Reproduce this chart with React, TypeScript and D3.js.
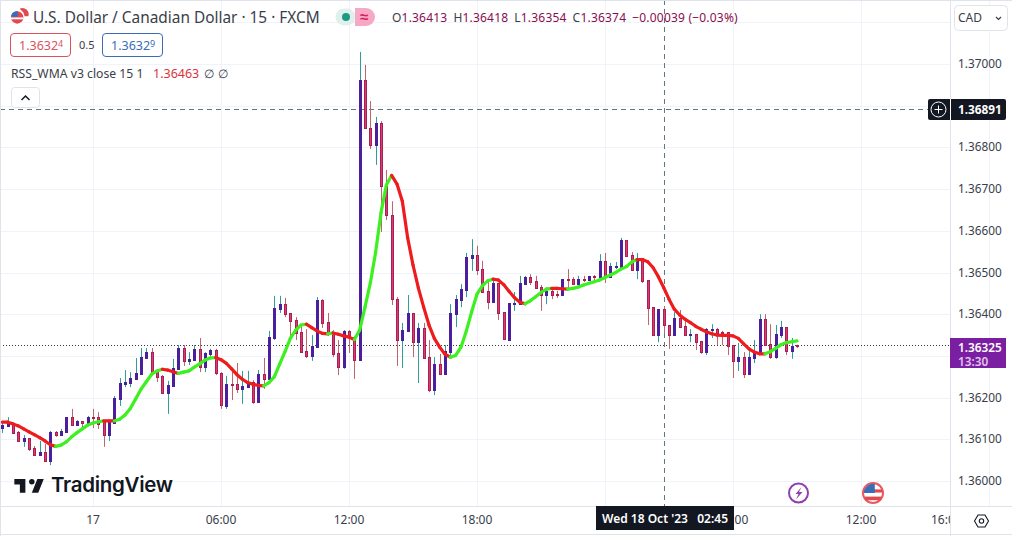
import * as d3 from 'd3'

// prices are stored as points of the 5th decimal above 1.36000
const base = 1.36
const firstBar = -17 // bar index relative to 17 Oct 00:00

const opens = [127,132,137,118,96,103,79,62,70,48,118,110,118,153,134,144,139,153,153,141,110,139,197,233,235,245,257,295,309,264,252,211,228,269,319,288,290,317,273,305,314,259,180,233,233,221,225,237,189,257,245,343,412,424,403,386,357,312,300,321,434,381,357,307,273,360,345,290,962,846,806,858,707,638,436,338,360,403,333,367,297,218,281,257,309,400,434,458,535,542,508,456,429,475,405,338,424,424,472,489,480,465,446,456,448,446,484,484,472,484,482,492,489,528,489,513,513,578,542,506,535,482,417,350,413,374,350,391,372,350,353,336,309,362,364,357,357,326,288,297,257,295,305,388,329,297,350,369,312,327]
const closes = [134,139,115,96,103,77,62,70,48,118,110,120,153,134,144,139,153,151,137,110,141,199,235,237,247,259,297,309,261,249,211,230,271,319,288,293,317,273,307,314,259,182,233,230,221,228,237,189,257,245,345,415,424,400,384,355,309,300,324,434,379,355,305,273,360,345,290,962,846,806,858,707,638,436,338,362,403,333,367,295,218,281,257,312,403,436,460,537,542,506,453,429,475,403,341,427,427,475,489,477,463,446,456,446,446,484,482,472,484,482,492,489,528,489,516,516,578,540,506,535,480,415,350,412,374,350,391,369,350,353,333,309,364,364,355,355,324,288,297,257,297,307,388,326,297,353,369,312,324,325]
const highs = [144,153,139,120,110,103,84,96,89,120,120,125,153,173,146,144,156,173,165,146,146,204,247,266,261,295,319,319,319,266,254,240,293,326,326,309,326,343,309,317,317,261,252,271,283,264,264,242,266,295,360,444,444,439,403,393,376,364,350,441,436,403,362,338,362,362,348,1029,998,911,873,863,746,671,441,379,446,403,379,379,338,297,305,326,424,446,472,547,580,564,528,477,482,475,405,427,453,492,492,496,492,470,465,465,456,484,508,489,492,492,492,494,544,547,523,525,583,578,549,547,535,482,417,412,418,374,405,410,388,364,353,336,367,376,367,360,357,326,331,309,312,338,400,400,376,374,384,369,343,327]
const lows = [115,132,113,94,82,72,62,62,48,38,106,110,118,134,134,125,139,127,125,82,96,139,180,225,225,242,257,295,261,237,211,161,228,269,276,278,290,261,261,295,254,173,173,194,211,185,225,185,189,221,245,338,403,393,338,338,309,295,288,321,367,348,297,254,269,307,245,290,846,796,758,597,626,422,276,271,360,297,235,295,213,206,257,257,302,369,417,441,504,494,453,412,429,386,341,336,408,424,470,470,463,408,424,436,439,446,463,470,472,477,482,482,484,475,489,508,513,540,504,484,475,374,350,333,354,317,350,369,350,333,314,305,302,343,326,326,302,247,264,247,257,283,305,326,293,293,343,302,293,319]
const rssWma = [141,141,137,132,125,118,111,104,96,87,83,86,94,106,116,125,134,139,142,144,144,144,148,158,174,197,220,238,256,264,268,266,262,258,261,264,273,281,290,295,296,291,282,269,255,244,236,232,229,228,236,250,280,310,342,362,374,376,368,360,354,353,355,352,348,345,339,362,417,475,549,643,710,733,712,671,583,518,463,417,374,342,321,304,297,301,321,360,406,448,468,480,484,482,471,455,440,429,425,432,442,452,460,462,462,461,460,462,465,470,474,478,482,488,494,500,508,514,525,531,531,526,512,490,464,436,412,398,388,380,371,364,358,353,350,349,349,348,342,329,317,309,305,305,310,318,327,332,334,336]

const priceTicks = [1.36, 1.361, 1.362, 1.363, 1.364, 1.365, 1.366, 1.367, 1.368, 1.369, 1.37, 1.371]
const priceTickLabels = ['1.36000', '1.36100', '1.36200', '', '1.36400', '1.36500', '1.36600', '1.36700', '1.36800', '', '1.37000', '']
const timeTicks = [0, 24, 48, 72, 96, 120, 144, 168]
const timeTickLabels = ['17', '06:00', '12:00', '18:00', '', '06:00', '12:00', '']
const lastLabelBar = 160 // 16:00, cut off by the price scale
const crosshairBar = 107
const crosshairPrice = 1.36891
const lastPrice = 1.36325

const y = d3.scaleLinear().domain([1.36, 1.37]).range([481, 64])
const x = d3.scaleLinear().domain([0, 24]).range([93, 221])
const p = (v: number) => y(base + v * 1e-5)

const plotRight = 950
const plotBottom = 506
const font = '"Noto Sans", sans-serif'

const segment = d3.line<[number, number]>()

function UsFlag({ cx, cy, r }: { cx: number; cy: number; r: number }) {
  return (
    <g>
      <circle cx={cx} cy={cy} r={r} fill="#fff" />
      <rect x={cx - r} y={cy - r * 0.4} width={2 * r} height={r * 0.35} fill="#e2494f" />
      <rect x={cx - r * 0.9} y={cy + r * 0.4} width={1.8 * r} height={r * 0.4} fill="#e2494f" />
      <path d={`M${cx - r},${cy} A${r},${r} 0 0 1 ${cx + r * 0.2},${cy - r} L${cx + r * 0.2},${cy} Z`} fill="#3b6cb8" />
    </g>
  )
}

export default function App() {
  return (
    <svg width={1012} height={536} style={{ position: 'absolute', left: 0, top: 0, background: '#fff', display: 'block' }} fontFamily={font}>
      <defs>
        <clipPath id="axisClip"><rect x={0} y={506} width={plotRight} height={30} /></clipPath>
        <clipPath id="plotClip"><rect x={0} y={0} width={plotRight} height={plotBottom} /></clipPath>
      </defs>

      {/* grid */}
      {priceTicks.map(t => (
        <line key={t} x1={0} x2={plotRight} y1={Math.round(y(t)) + 0.5} y2={Math.round(y(t)) + 0.5} stroke="#f0f3fa" />
      ))}
      {timeTicks.map(t => (
        <line key={t} x1={Math.round(x(t)) + 0.5} x2={Math.round(x(t)) + 0.5} y1={0} y2={plotBottom} stroke="#f0f3fa" />
      ))}

      <g clipPath="url(#plotClip)">
        {/* last price and crosshair */}
        <line x1={0} x2={plotRight} y1={Math.round(y(lastPrice)) + 0.5} y2={Math.round(y(lastPrice)) + 0.5} stroke="#3a3a3a" strokeDasharray="1 2" />
        <line x1={0} x2={plotRight} y1={Math.floor(y(crosshairPrice)) + 0.5} y2={Math.floor(y(crosshairPrice)) + 0.5} stroke="#64787a" strokeDasharray="5 4" />
        <line x1={Math.round(x(crosshairBar)) + 0.5} x2={Math.round(x(crosshairBar)) + 0.5} y1={0} y2={plotBottom} stroke="#64787a" strokeDasharray="5 4" />

        {/* candles */}
        {opens.map((o, i) => {
          const c = closes[i]
          const up = c >= o
          const cx = Math.round(x(firstBar + i)) + 0.5
          const top = Math.round(p(Math.max(o, c)))
          const bot = Math.round(p(Math.min(o, c)))
          return (
            <g key={i}>
              <line x1={cx} x2={cx} y1={p(highs[i])} y2={p(lows[i])} stroke={up ? '#2f9e9a' : '#c2646c'} />
              <rect x={cx - 1} y={top + 0.5} width={2} height={Math.max(bot - top, 1)} fill={up ? '#4a1f9e' : '#e0377a'} stroke={up ? '#4a1f9e' : '#a8204f'} />
            </g>
          )
        })}

        {/* RSS_WMA, green while rising and red while falling */}
        {rssWma.slice(1).map((v, i) => (
          <path
            key={i}
            d={segment([[x(firstBar + i), p(rssWma[i])], [x(firstBar + i + 1), p(v)]]) ?? ''}
            fill="none"
            stroke={v > rssWma[i] ? '#3df01f' : '#ee1c1c'}
            strokeWidth={3.2}
            strokeLinecap="round"
          />
        ))}
      </g>

      {/* event icons */}
      <circle cx={798.5} cy={493} r={9.5} fill="#fff" stroke="#8e3fb0" strokeWidth={2} />
      <path d="M801.5,487 L795.5,494 L798.5,494 L796,499.5 L802.5,492 L799,492 Z" fill="#8e3fb0" />
      <circle cx={873} cy={493} r={11} fill="#e85a62" />
      <UsFlag cx={873} cy={493} r={9} />

      {/* TradingView logo */}
      <g transform="translate(12.5,473.5) scale(0.92)" fill="#131722">
        <path d="M14 6H2v6h6v9h6V6Zm14 15h-7l6-15h7l-6 15Zm-7-9a3 3 0 1 0 0-6 3 3 0 0 0 0 6Z" />
      </g>
      <text x={51} y={492} fontSize={20.5} fontWeight={600} fill="#131722" fontFamily="Inter, sans-serif" letterSpacing={-0.3}>TradingView</text>

      {/* legend */}
      <g transform="translate(11,10) scale(0.62)">
        <circle cx={10} cy={12} r={10} fill="#e2494f" />
        <rect x={0} y={12} width={20} height={3} fill="#fff" />
        <path d="M0,11 A10,10 0 0 1 11,2 L11,11 Z" fill="#3b6cb8" />
        <path d="M14,-2 A10,10 0 0 1 28,10 L22,10 L20,4 Z" fill="#e2494f" />
      </g>
      <text x={33} y={23} fontSize={15.4} fill="#3a3e4a">U.S. Dollar / Canadian Dollar · 15 · FXCM</text>

      <rect x={335.5} y={8.5} width={20} height={17} rx={8.5} fill="#e0f0ec" />
      <circle cx={346} cy={17} r={4} fill="#1a9b82" />
      <path d="M355,8 L366,8 A9,9 0 0 1 366,26 L355,26 Z" fill="#f7a8c4" />
      <text x={364} y={22} fontSize={15} fontWeight={700} textAnchor="middle" fill="#d81b60">≈</text>
      <text x={392} y={22} fontSize={12} fill="#880e4f" letterSpacing={0.2}>
        <tspan fill="#3a3e4a">O</tspan>1.36413<tspan fill="#3a3e4a" dx={6}>H</tspan>1.36418<tspan fill="#3a3e4a" dx={6}>L</tspan>1.36354<tspan fill="#3a3e4a" dx={6}>C</tspan>1.36374<tspan dx={6}>−0.00039 (−0.03%)</tspan>
      </text>

      <rect x={10.5} y={33.5} width={60} height={23} rx={3.5} fill="#fff" stroke="#d9525e" />
      <text x={19} y={50} fontSize={12.5} fill="#d9525e">1.3632<tspan fontSize={9} dy={-3}>4</tspan></text>
      <text x={79} y={49} fontSize={11} fill="#3a3e4a">0.5</text>
      <rect x={102.5} y={33.5} width={60} height={23} rx={3.5} fill="#fff" stroke="#3b6cb8" />
      <text x={111} y={50} fontSize={12.5} fill="#3b6cb8">1.3632<tspan fontSize={9} dy={-3}>9</tspan></text>

      <text x={11} y={78} fontSize={12.2} fill="#3a3e4a">RSS_WMA v3 close 15 1</text>
      <text x={153} y={77.5} fontSize={12.5} fill="#e0323c">1.36463</text>
      <text x={204} y={78} fontSize={12} fill="#3a3e4a">∅</text>
      <text x={218} y={78} fontSize={12} fill="#3a3e4a">∅</text>

      <rect x={11.5} y={87.5} width={28} height={20} rx={3} fill="#fff" stroke="#e0e3eb" />
      <path d="M21.5,100 L25.5,96 L29.5,100" fill="none" stroke="#131722" strokeWidth={1.5} />

      {/* time scale */}
      <line x1={0} x2={1012} y1={506.5} y2={506.5} stroke="#e0e3eb" />
      <line x1={0} x2={1012} y1={534.5} y2={534.5} stroke="#e0e3eb" />
      <g clipPath="url(#axisClip)" fontSize={12} fill="#3a3e4a" textAnchor="middle">
        {timeTicks.map((t, i) => timeTickLabels[i] && <text key={t} x={x(t)} y={523.5}>{timeTickLabels[i]}</text>)}
        <text x={x(lastLabelBar)} y={523.5}>16:00</text>
      </g>
      <rect x={596} y={506} width={138} height={24} fill="#131722" />
      <text x={665} y={523} fontSize={12} fontWeight={600} fill="#fff" textAnchor="middle" xmlSpace="preserve">Wed 18 Oct '23   02:45</text>

      {/* price scale */}
      <line x1={plotRight + 0.5} x2={plotRight + 0.5} y1={0} y2={536} stroke="#e0e3eb" />
      <line x1={0} x2={1012} y1={0.5} y2={0.5} stroke="#e0e3eb" />
      <line x1={0.5} x2={0.5} y1={0} y2={536} stroke="#e0e3eb" />
      {priceTicks.map((t, i) => priceTickLabels[i] && (
        <text key={t} x={958} y={y(t) + 4} fontSize={11.8} fill="#3a3e4a">{priceTickLabels[i]}</text>
      ))}
      <rect x={954.5} y={5.5} width={53} height={25} rx={4} fill="#fff" stroke="#e0e3eb" />
      <text x={958} y={22} fontSize={12} fill="#3a3e4a">CAD</text>
      <path d="M996,17 L998.5,19.5 L1001,17" fill="none" stroke="#3a3e4a" strokeWidth={1.2} />

      <rect x={928} y={99} width={78} height={21} rx={2} fill="#131722" />
      <rect x={950} y={99} width={1} height={21} fill="#fff" />
      <circle cx={938.5} cy={109.5} r={7.5} fill="none" stroke="#fff" />
      <path d="M938.5,105.5 V113.5 M934.5,109.5 H942.5" stroke="#fff" />
      <text x={958} y={114} fontSize={11.8} fontWeight={700} fill="#fff">{crosshairPrice.toFixed(5)}</text>

      <rect x={950} y={338} width={56} height={30} fill="#7b1fa2" />
      <text x={958} y={352} fontSize={11.8} fontWeight={600} fill="#fff">{lastPrice.toFixed(5)}</text>
      <text x={958} y={365.5} fontSize={11.8} fontWeight={600} fill="#e0c4ec">13:30</text>

      {/* settings */}
      <path d="M974.5,521 L978,515 L985,515 L988.5,521 L985,527 L978,527 Z" fill="none" stroke="#131722" strokeWidth={1.1} />
      <circle cx={981.5} cy={521} r={2.2} fill="none" stroke="#131722" strokeWidth={1.1} />
    </svg>
  )
}
